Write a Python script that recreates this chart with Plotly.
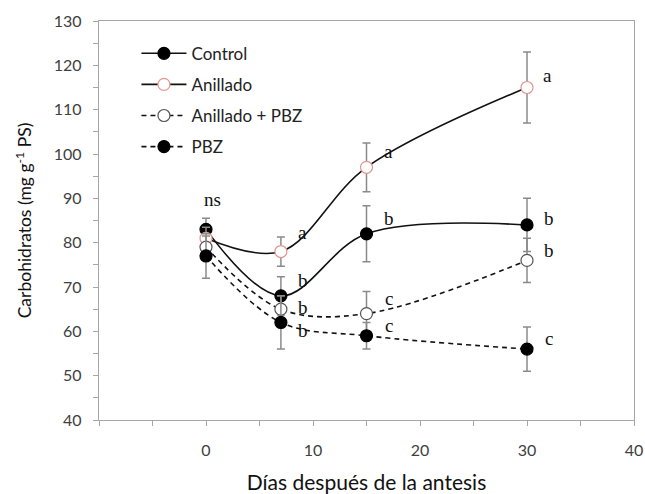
import plotly.graph_objects as go

days = [0, 7, 15, 30]

series_names = ["Control", "Anillado", "Anillado + PBZ", "PBZ"]
control = [83, 68, 82, 84]
control_err = [2.5, 4.3, 6.3, 6.0]
anillado = [81, 78, 97, 115]
anillado_err = [2.5, 3.3, 5.5, 8.0]
anillado_pbz = [79, 65, 64, 76]
anillado_pbz_err = [2.5, 3.0, 5.0, 5.0]
pbz = [77, 62, 59, 56]
pbz_err = [5.0, 6.0, 3.0, 5.0]

letters_control = ["ns", "b", "b", "b"]
letters_anillado = ["", "a", "a", "a"]
letters_anillado_pbz = ["", "b", "c", "b"]
letters_pbz = ["", "b", "c", "c"]

x_ticks = [0, 10, 20, 30, 40]

fig = go.Figure()

styles = [
    dict(dash="solid", fill="black", edge="black"),
    dict(dash="solid", fill="white", edge="#E3968F"),
    dict(dash="5px,4px", fill="white", edge="#555555"),
    dict(dash="5px,4px", fill="black", edge="black"),
]
values = [control, anillado, anillado_pbz, pbz]
errors = [control_err, anillado_err, anillado_pbz_err, pbz_err]

for i in range(4):
    st = styles[i]
    fig.add_trace(go.Scatter(
        x=days, y=values[i], name=series_names[i],
        legendgroup=series_names[i],
        mode="lines+markers",
        line=dict(color="#111111", width=1.6, dash=st["dash"], shape="spline", smoothing=1.0),
        marker=dict(symbol="circle", size=12, color=st["fill"],
                    line=dict(color=st["edge"], width=1.2)),
        error_y=dict(type="data", array=errors[i], visible=True,
                     color="#8A8A8A", thickness=1.5, width=4),
    ))

ann_font = dict(family="Liberation Serif, Times New Roman, serif", size=19, color="#111111")

def add_letters(ys, letters, shifts):
    for x, y, t, (dx, dy) in zip(days, ys, letters, shifts):
        if t:
            fig.add_annotation(x=x, y=y, text=t, showarrow=False, xref="x", yref="y",
                               xshift=dx, yshift=dy, font=ann_font)

add_letters(control, letters_control, [(6, 30), (22, 15), (22, 15), (22, 6)])
add_letters(anillado, letters_anillado, [(0, 0), (22, 19), (22, 16), (20, 12)])
add_letters(anillado_pbz, letters_anillado_pbz, [(0, 0), (22, 2), (22, 15), (22, 10)])
add_letters(pbz, letters_pbz, [(0, 0), (22, -8), (22, 10), (22, 11)])

axis_color = "#A6A6A6"
sans = "Lato, Open Sans, sans-serif"
tick_font = dict(family=sans, size=16, color="#404040")

fig.update_layout(
    width=645, height=494,
    margin=dict(l=99, r=11, t=21, b=74),
    paper_bgcolor="white", plot_bgcolor="white",
    showlegend=True,
    legend=dict(x=0.07, y=0.963, xanchor="left", yanchor="top",
                font=dict(family=sans, size=17, color="#222222"),
                bgcolor="rgba(0,0,0,0)", traceorder="grouped", tracegroupgap=6,
                itemwidth=45),
    xaxis=dict(range=[-10, 40], tickvals=x_ticks,
               showgrid=False, zeroline=False,
               showline=True, linecolor=axis_color, linewidth=1.3, mirror=True,
               ticks="outside", ticklen=5, tickcolor=axis_color, tickwidth=1.3,
               minor=dict(dtick=5, tick0=0, ticks="outside", ticklen=5, tickcolor=axis_color, tickwidth=1.3),
               tickfont=tick_font, ticklabelstandoff=11,
               automargin=False,
               title=dict(text="Días después de la antesis", standoff=20,
                          font=dict(family=sans, size=21, color="#111111"))),
    yaxis=dict(range=[40, 130], dtick=10, tick0=40,
               showgrid=False, zeroline=False,
               showline=True, linecolor=axis_color, linewidth=1.3, mirror=True,
               ticks="outside", ticklen=5, tickcolor=axis_color, tickwidth=1.3,
               minor=dict(dtick=5, tick0=40, ticks="outside", ticklen=5, tickcolor=axis_color, tickwidth=1.3),
               tickfont=tick_font, ticklabelstandoff=8,
               automargin=False,
               title=dict(text="Carbohidratos (mg g<sup>-1</sup> PS)", standoff=17,
                          font=dict(family=sans, size=17.5, color="#111111"))),
)

fig.write_html("out.html", config={"displayModeBar": False},
               post_script="document.body.style.margin='0px';document.body.style.overflow='hidden';")
